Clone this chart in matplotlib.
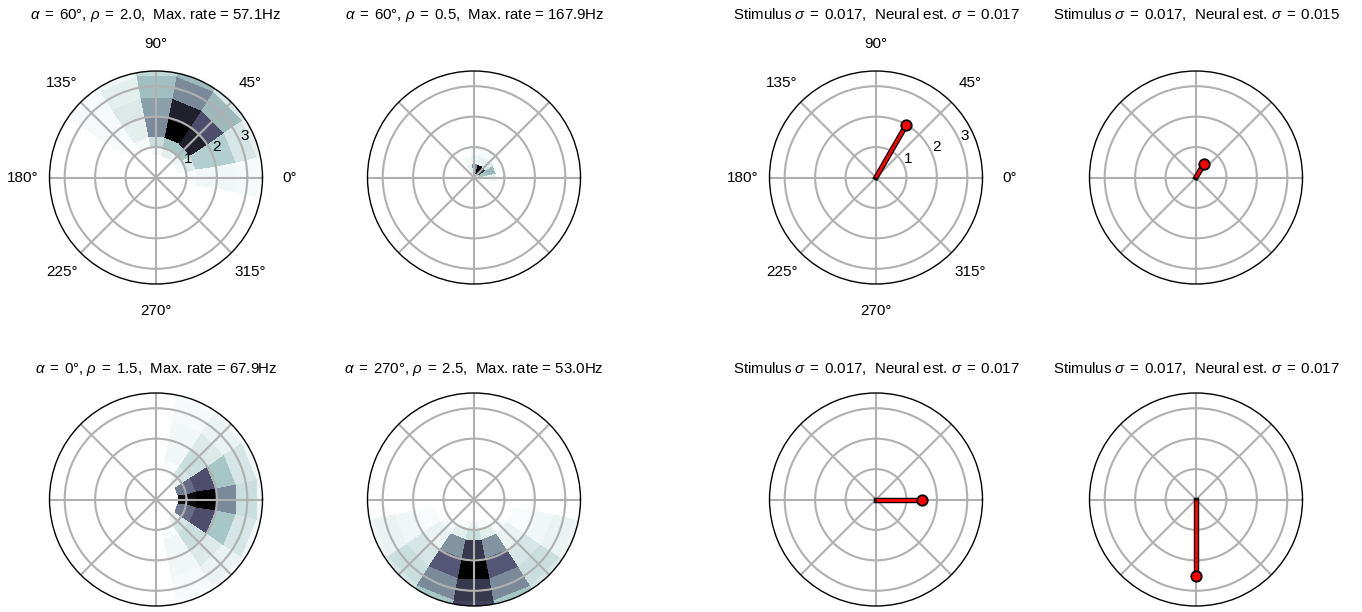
import numpy as np
import matplotlib

matplotlib.use("Agg")
import matplotlib.pyplot as plt  # noqa: E402

plt.rcParams["font.family"] = ["Liberation Sans", "DejaVu Sans"]
plt.rcParams["mathtext.fontset"] = "custom"
plt.rcParams["mathtext.rm"] = "Liberation Sans"
plt.rcParams["mathtext.it"] = "Liberation Sans:italic"

# polar bins of the population rate maps
THETA_STEP = 22.5
R_EDGES = [0.0, 0.15, 0.45, 0.75, 1.0, 1.35, 2.0, 2.67, 3.4, 4.0]

# stimulus per panel (row-major: top-left, top-right, bottom-left, bottom-right)
alpha_deg = [60, 60, 0, 270]
rho = [2.0, 0.5, 1.5, 2.5]
max_rate = [57.1, 167.9, 67.9, 53.0]

# normalised firing rate, one row per theta bin centre (deg), columns follow R_EDGES
rate_a_theta = [0, 22.5, 45, 67.5, 90, 112.5, 135]
rate_a = [
    [0, 0, 0, 0.00, 0.02, 0.04, 0.04, 0.03, 0.02],
    [0, 0, 0, 0.03, 0.10, 0.22, 0.22, 0.12, 0.07],
    [0, 0, 0, 0.05, 0.25, 0.85, 0.65, 0.30, 0.12],
    [0, 0, 0, 0.08, 0.25, 1.00, 0.85, 0.45, 0.30],
    [0, 0, 0, 0.03, 0.15, 0.45, 0.38, 0.28, 0.18],
    [0, 0, 0, 0.00, 0.03, 0.08, 0.10, 0.08, 0.05],
    [0, 0, 0, 0.00, 0.00, 0.02, 0.03, 0.03, 0.02],
]

rate_b_theta = [0, 22.5, 45, 67.5, 90, 112.5]
rate_b = [
    [0, 0.05, 0.05, 0.00, 0, 0, 0, 0, 0],
    [0, 0.25, 0.30, 0.02, 0, 0, 0, 0, 0],
    [0, 0.80, 0.10, 0.02, 0, 0, 0, 0, 0],
    [0, 1.00, 0.06, 0.03, 0, 0, 0, 0, 0],
    [0, 0.45, 0.05, 0.02, 0, 0, 0, 0, 0],
    [0, 0.08, 0.03, 0.00, 0, 0, 0, 0, 0],
]

rate_c_theta = [292.5, 315, 337.5, 0, 22.5, 45, 67.5]
rate_c = [
    [0, 0, 0, 0.00, 0.02, 0.04, 0.04, 0.03, 0.02],
    [0, 0, 0, 0.06, 0.12, 0.15, 0.10, 0.06, 0.03],
    [0, 0, 0, 0.50, 0.55, 0.65, 0.25, 0.12, 0.04],
    [0, 0, 0, 0.92, 0.95, 1.00, 0.45, 0.15, 0.05],
    [0, 0, 0, 0.50, 0.55, 0.65, 0.25, 0.12, 0.04],
    [0, 0, 0, 0.06, 0.12, 0.15, 0.10, 0.06, 0.03],
    [0, 0, 0, 0.00, 0.02, 0.04, 0.04, 0.03, 0.02],
]

rate_d_theta = [202.5, 225, 247.5, 270, 292.5, 315, 337.5]
rate_d = [
    [0, 0, 0, 0.00, 0.00, 0.02, 0.04, 0.06, 0.05],
    [0, 0, 0, 0.00, 0.03, 0.06, 0.12, 0.15, 0.12],
    [0, 0, 0, 0.02, 0.08, 0.42, 0.62, 0.45, 0.25],
    [0, 0, 0, 0.06, 0.15, 0.75, 1.00, 0.75, 0.70],
    [0, 0, 0, 0.02, 0.08, 0.42, 0.62, 0.45, 0.25],
    [0, 0, 0, 0.00, 0.03, 0.06, 0.12, 0.15, 0.12],
    [0, 0, 0, 0.00, 0.00, 0.02, 0.04, 0.06, 0.05],
]

rate_thetas = [rate_a_theta, rate_b_theta, rate_c_theta, rate_d_theta]
rate_rows = [rate_a, rate_b, rate_c, rate_d]

# decoded estimate per panel
est_theta = [60, 60, 0, 270]
est_r = [2.0, 0.5, 1.5, 2.5]
stim_sigma = [0.017, 0.017, 0.017, 0.017]
est_sigma = [0.017, 0.015, 0.017, 0.017]

W, H = 1362, 612
COL_X = [49.5, 367.5, 769.5, 1089.5]   # left edge of each polar axes, px
ROW_Y = [71, 393]                      # top edge of each row, px
SIZE = 213
TITLE_Y = [1.243, 1.093]
TITLE_FS = 10.8
TICK_FS = 11


def rate_grid(thetas, rows):
    n_theta = int(round(360 / THETA_STEP))
    grid = np.zeros((n_theta, len(R_EDGES) - 1))
    for th, row in zip(thetas, rows):
        grid[int(round(th / THETA_STEP)) % n_theta] = row
    return grid


def style_polar(ax, labels):
    ax.set_rlim(0, 3.5)
    ax.set_rticks([1, 2, 3])
    ax.set_thetagrids(np.arange(0, 360, 45))
    ax.grid(True, color="#b0b0b0", lw=1.5)
    ax.tick_params(labelsize=TICK_FS)
    ax.tick_params(axis="x", pad=9)
    ax.spines["polar"].set_linewidth(1.0)
    if not labels:
        ax.set_xticklabels([])
        ax.set_yticklabels([])


fig = plt.figure(figsize=(W / 100, H / 100), dpi=100)
theta_edges = np.deg2rad(np.arange(int(360 / THETA_STEP) + 1) * THETA_STEP - THETA_STEP / 2)
T, R = np.meshgrid(theta_edges, np.array(R_EDGES), indexing="ij")

for i in range(4):
    row, col = divmod(i, 2)
    top = ROW_Y[row]

    # population rate map
    ax = fig.add_axes([COL_X[col] / W, 1 - (top + SIZE) / H, SIZE / W, SIZE / H],
                      projection="polar")
    C = rate_grid(rate_thetas[i], rate_rows[i])
    ax.pcolormesh(T, R, C, cmap="bone_r", vmin=0, vmax=C.max(), shading="flat")
    style_polar(ax, labels=(i == 0))
    ax.set_title(rf"$\alpha\;=\;{alpha_deg[i]}°$, $\rho\;=\;{rho[i]:.1f}$,  Max. rate = {max_rate[i]:.1f}Hz",
                 y=TITLE_Y[row], pad=0, fontsize=TITLE_FS)

    # decoded estimate
    ax = fig.add_axes([COL_X[col + 2] / W, 1 - (top + SIZE) / H, SIZE / W, SIZE / H],
                      projection="polar")
    th = np.deg2rad(est_theta[i])
    ax.plot([th, th], [0, est_r[i]], color="k", lw=3.9, solid_capstyle="projecting")
    ax.plot([th, th], [0, est_r[i]], color="red", lw=2.1, solid_capstyle="butt")
    ax.plot([th], [est_r[i]], "o", ms=7.5, mfc="red", mec="k", mew=1.3)
    style_polar(ax, labels=(i == 0))
    ax.set_title(rf"Stimulus $\sigma\;=\;{stim_sigma[i]:.3f}$,  Neural est. $\sigma\;=\;{est_sigma[i]:.3f}$",
                 y=TITLE_Y[row], pad=0, fontsize=TITLE_FS)

fig.savefig("out.png", dpi=100)
